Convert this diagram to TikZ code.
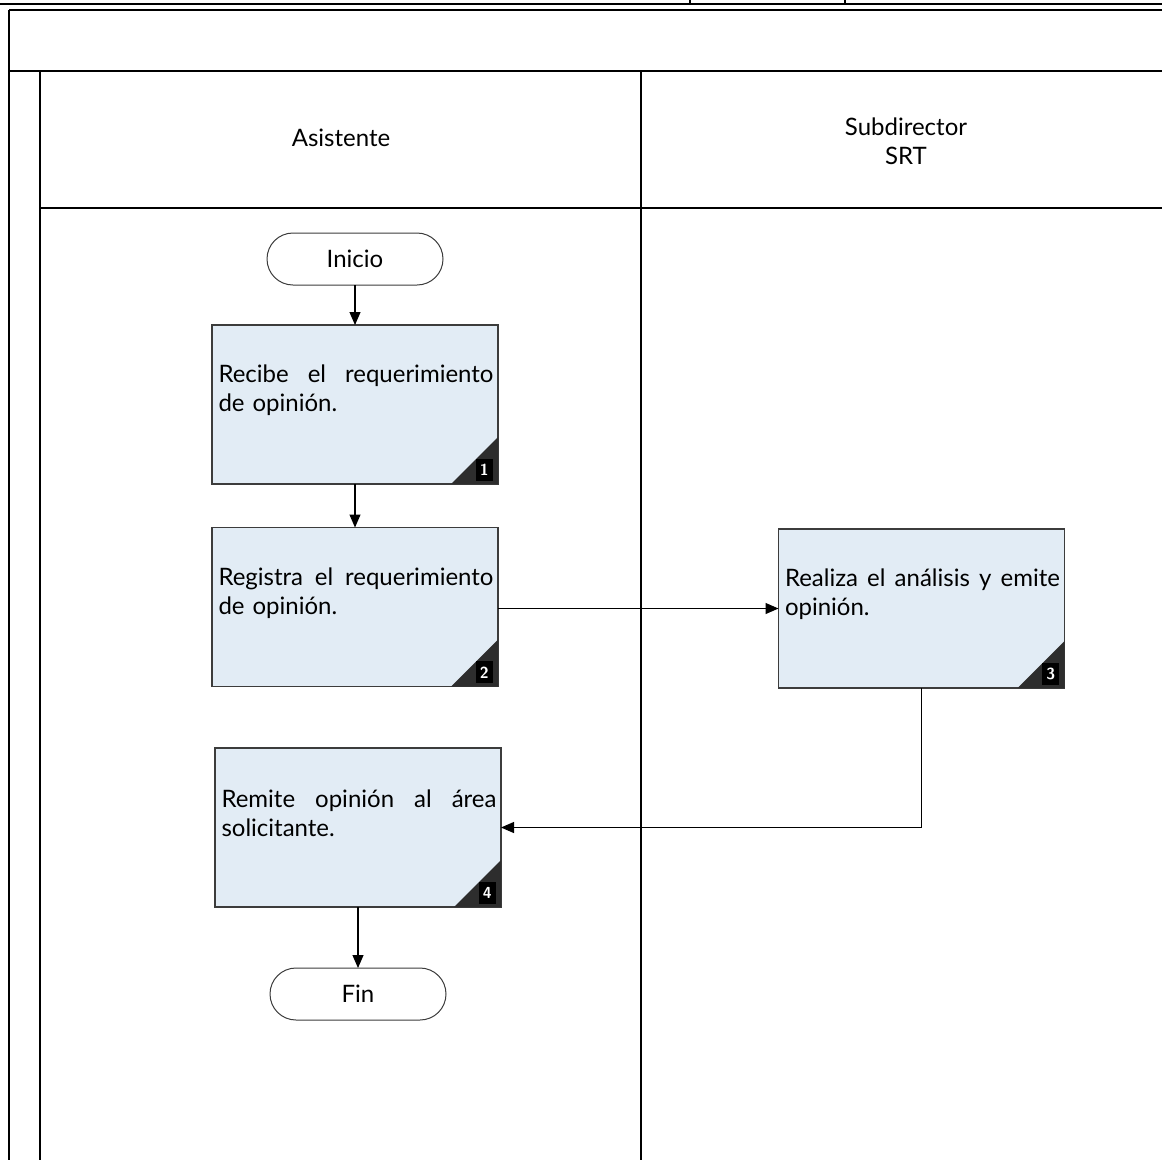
\documentclass[tikz,border=0pt]{standalone}
\usepackage{fontspec}
\setmainfont{Lato}
\usetikzlibrary{arrows.meta,calc}
\definecolor{boxfill}{RGB}{226,236,245}
\definecolor{linegray}{RGB}{60,60,60}
\definecolor{badgegray}{RGB}{45,45,45}
\newcommand{\fullline}[1]{\hbox to 275pt{#1}}
\begin{document}
\begin{tikzpicture}[x=1pt,y=-1pt,
  lane/.style={draw=black, line width=1.3pt},
  task/.style={draw=linegray, fill=boxfill, line width=1.2pt, minimum width=286pt, minimum height=159pt, inner sep=0pt, outer sep=0pt},
  term/.style={draw=linegray, rounded corners=26pt, minimum width=176pt, minimum height=52pt, line width=1pt, inner sep=0pt, outer sep=0pt, font=\fontsize{24}{28}\selectfont},
  ttext/.style={text width=275pt, align=left, inner sep=0pt, font=\fontsize{24}{29}\selectfont},
  hdr/.style={align=center, inner sep=0pt, font=\fontsize{24}{29}\selectfont},
  flow/.style={draw=black, line width=1.1pt, -{Triangle[length=13pt,width=11pt]}},
  numbox/.style={fill=black, text=white, minimum width=17pt, minimum height=22pt, inner sep=0pt, anchor=south east, font=\sffamily\bfseries\fontsize{16}{16}\selectfont}
]
\useasboundingbox (0,0) rectangle (1162,1160);
% frame
\draw[lane, line width=2.5pt] (0,4) -- (1162,4);
\draw[lane] (690,0) -- (690,4);
\draw[lane] (845,0) -- (845,4);
\draw[lane] (9,10) -- (1162,10);
\draw[lane] (9,10) -- (9,1160);
\draw[lane] (9,71) -- (1162,71);
\draw[lane] (40,71) -- (40,1160);
\draw[lane] (641,71) -- (641,1160);
\draw[lane] (40,208) -- (1162,208);
% headers
\node[hdr] (h1) at (341,138) {Asistente};
\node[hdr] (h2) at (906,141) {Subdirector\\SRT};
% terminals
\node[term] (ini) at (355,259) {Inicio};
\node[term] (fin) at (358,994) {Fin};
% tasks
\node[task] (b1) at (355,404.5) {};
\node[task] (b2) at (355,607) {};
\node[task] (b3) at (921.5,608.5) {};
\node[task] (b4) at (358,827.5) {};
\foreach \b/\n in {b1/1,b2/2,b3/3,b4/4}{
  \fill[badgegray] ($(\b.south east)+(-47,0)$) -- (\b.south east) -- ($(\b.south east)+(0,-47)$) -- cycle;
  \node[numbox] (n\n) at ($(\b.south east)+(-5,-3)$) {\n};
}
\node[ttext] (t1) at ($(b1.center)+(1,-14)$) {\fullline{Recibe\hfill el\hfill requerimiento}\\de opinión.};
\node[ttext] (t2) at ($(b2.center)+(1,-14)$) {\fullline{Registra\hfill el\hfill requerimiento}\\de opinión.};
\node[ttext] (t3) at ($(b3.center)+(1,-14)$) {\fullline{Realiza\hfill el\hfill análisis\hfill y\hfill emite}\\opinión.};
\node[ttext] (t4) at ($(b4.center)+(1,-14)$) {\fullline{Remite\hfill opinión\hfill al\hfill área}\\solicitante.};
% connectors
\draw[flow] (ini.south) -- (b1.north);
\draw[flow] (b1.south) -- (b2.north);
\draw[flow] (b2.east |- b3.west) -- (b3.west);
\draw[flow] (b3.south) |- (b4.east);
\draw[flow] (b4.south) -- (fin.north);
\end{tikzpicture}
\end{document}
